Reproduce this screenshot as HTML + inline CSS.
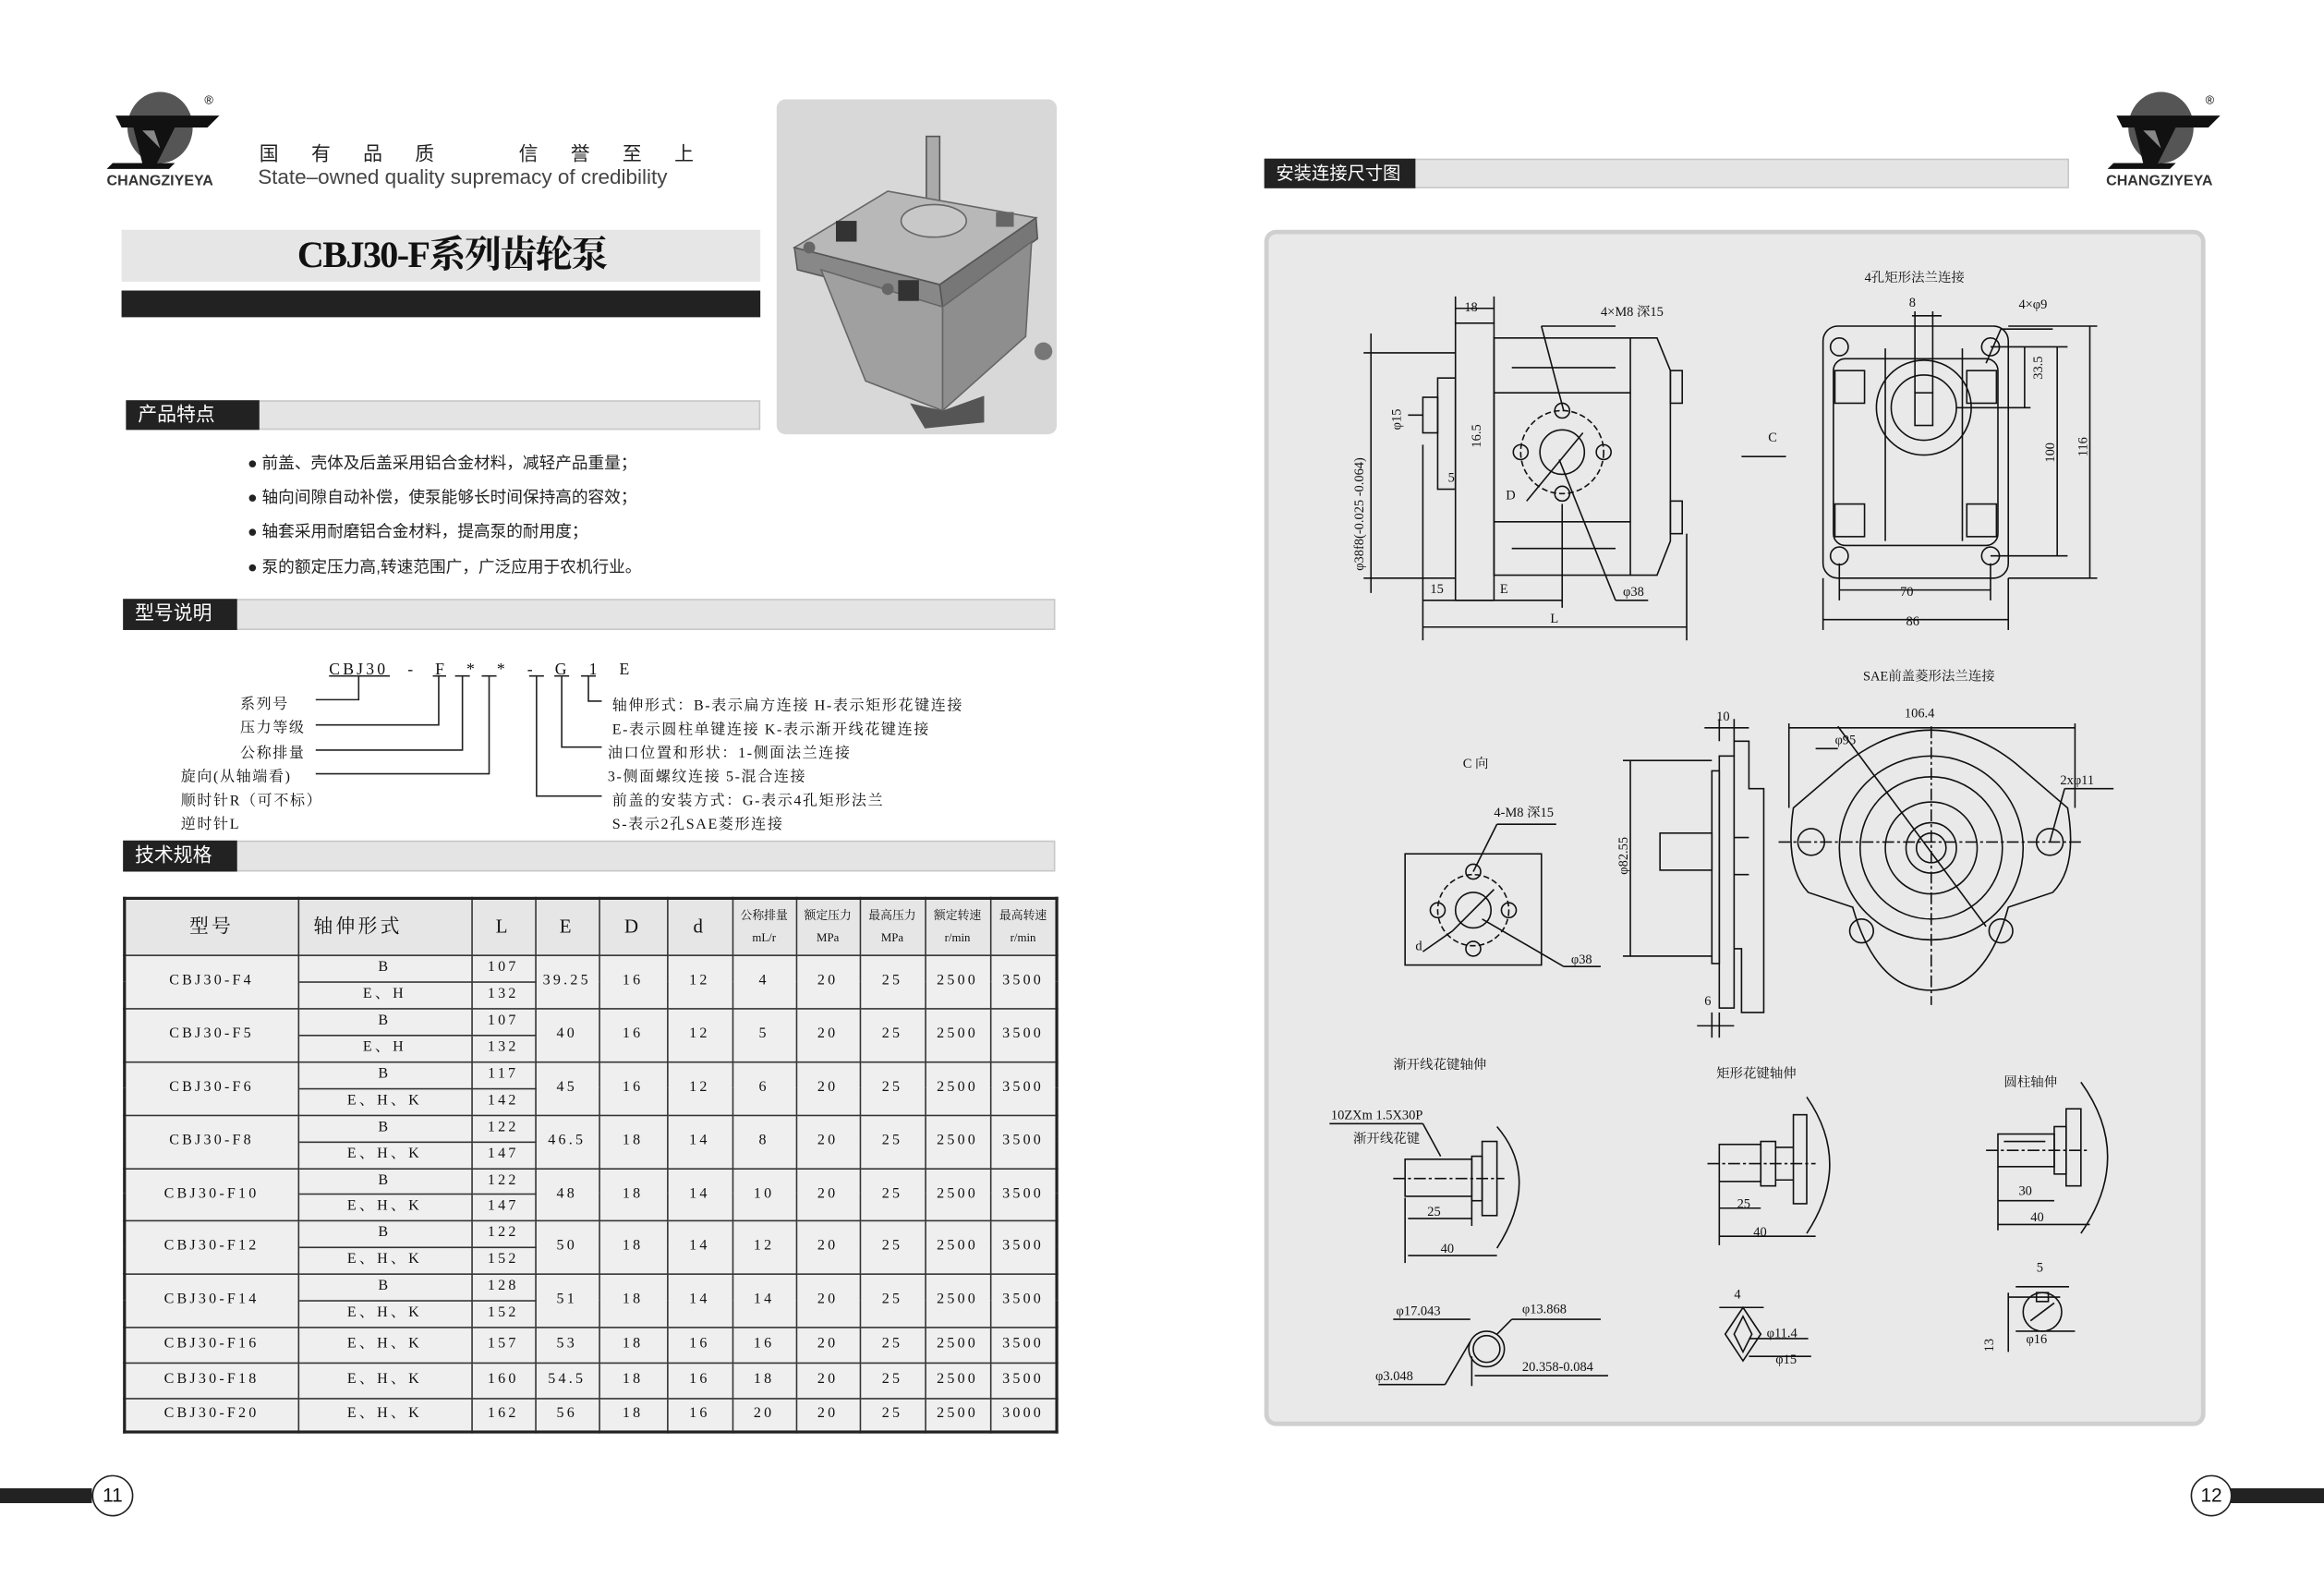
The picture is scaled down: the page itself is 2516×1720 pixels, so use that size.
<!DOCTYPE html>
<html><head><meta charset="utf-8"><style>
html,body{margin:0;padding:0;background:#fff;}
body{width:2516px;height:1719px;overflow:hidden;position:relative;}
#s{position:absolute;left:0;top:0;width:1568px;height:1072px;transform:scale(1.60459);transform-origin:0 0;font-family:"Liberation Serif","Noto Serif CJK SC","Noto Sans CJK SC",serif;color:#111;}
.a{position:absolute;}
.sans{font-family:"Liberation Sans","Noto Sans CJK SC",sans-serif;}
.bar{position:absolute;background:#e4e4e4;border:1px solid #c8c8c8;box-sizing:border-box;}
.lab{position:absolute;background:#222;color:#fff;font-family:"Liberation Sans","Noto Sans CJK SC",sans-serif;font-size:13px;line-height:20px;padding-left:8px;box-sizing:border-box;}
.b{position:absolute;font-size:11px;font-family:"Liberation Sans","Noto Sans CJK SC",sans-serif;color:#222;white-space:nowrap;}
.m{position:absolute;font-size:10px;white-space:nowrap;letter-spacing:1px;font-family:"Liberation Serif","Noto Serif CJK SC",serif;}
table{position:absolute;left:83px;top:605px;width:629px;border-collapse:collapse;table-layout:fixed;border:2px solid #222;}
td{border:1px solid #333;background:#efefef;text-align:center;font-size:10px;letter-spacing:2px;padding:0;line-height:10px;overflow:hidden;}
tr.h td{background:#e6e6e6;font-size:13px;}
</style></head><body><div id="s">

<!-- left logo -->
<svg class="a" style="left:68px;top:56px" width="95" height="64" viewBox="0 0 95 64">
<ellipse cx="40" cy="30" rx="22" ry="24" fill="#555"/>
<polygon points="10,22 80,22 72,30 50,30 38,54 28,54 22,30 14,30" fill="#111"/>
<polygon points="28,32 36,32 40,44" fill="#888"/>
<polygon points="8,54 50,54 46,58 4,58" fill="#111"/>
<text x="70" y="14" font-size="8" font-family="Liberation Sans">®</text>
</svg>
<div class="a sans" style="left:72px;top:117px;font-size:10px;font-weight:bold;color:#333;">CHANGZIYEYA</div>
<div class="a sans" style="left:175px;top:93px;font-size:13px;letter-spacing:22px;color:#222;">国有品质　信誉至上</div>
<div class="a sans" style="left:174px;top:111px;font-size:14px;color:#444;">State–owned quality supremacy of credibility</div>

<!-- photo -->
<div class="a" style="left:524px;top:67px;width:189px;height:226px;background:#d8d8d8;border-radius:6px;"></div>
<svg class="a" style="left:524px;top:67px" width="189" height="226">
<rect x="101" y="25" width="9" height="55" fill="#aaa" stroke="#555"/>
<polygon points="12,100 75,62 175,80 110,125" fill="#b8b8b8" stroke="#666"/>
<polygon points="12,100 110,125 112,140 14,115" fill="#888" stroke="#555"/>
<polygon points="110,125 175,80 176,94 112,140" fill="#777" stroke="#555"/>
<polygon points="30,115 112,140 112,210 60,190" fill="#a0a0a0" stroke="#666"/>
<polygon points="112,140 172,96 168,160 112,210" fill="#8e8e8e" stroke="#666"/>
<ellipse cx="106" cy="82" rx="22" ry="11" fill="#c8c8c8" stroke="#666"/>
<rect x="40" y="82" width="14" height="14" fill="#333"/>
<rect x="82" y="122" width="14" height="14" fill="#333"/>
<rect x="148" y="76" width="12" height="10" fill="#666"/>
<circle cx="180" cy="170" r="6" fill="#777"/>
<polygon points="90,205 112,210 140,200 140,218 100,222" fill="#555"/>
<circle cx="22" cy="100" r="4" fill="#666"/><circle cx="75" cy="128" r="4" fill="#666"/>
</svg>

<!-- title -->
<div class="bar" style="left:82px;top:155px;width:431px;height:35px;border:none;background:#e6e6e6;"></div>
<div class="a" style="left:82px;top:155px;width:446px;height:35px;text-align:center;font-size:25px;font-weight:bold;line-height:36px;letter-spacing:-1px;">CBJ30-F系列齿轮泵</div>
<div class="a" style="left:82px;top:196px;width:431px;height:18px;background:#222;"></div>

<!-- 产品特点 -->
<div class="bar" style="left:85px;top:270px;width:428px;height:20px;"></div>
<div class="lab" style="left:85px;top:270px;width:90px;height:20px;">产品特点</div>
<div class="b" style="left:167px;top:304px;">● 前盖、壳体及后盖采用铝合金材料，减轻产品重量；</div>
<div class="b" style="left:167px;top:327px;">● 轴向间隙自动补偿，使泵能够长时间保持高的容效；</div>
<div class="b" style="left:167px;top:350px;">● 轴套采用耐磨铝合金材料，提高泵的耐用度；</div>
<div class="b" style="left:167px;top:374px;">● 泵的额定压力高,转速范围广，广泛应用于农机行业。</div>

<!-- 型号说明 -->
<div class="bar" style="left:83px;top:404px;width:629px;height:21px;"></div>
<div class="lab" style="left:83px;top:404px;width:77px;height:21px;">型号说明</div>
<div class="m" style="left:222px;top:443px;font-size:11px;letter-spacing:2px;">CBJ30　-　F　*　*　-　G　1　E</div>
<svg class="a" style="left:0;top:0" width="720" height="600">
<g stroke="#222" stroke-width="1" fill="none">
<line x1="222" y1="456" x2="263" y2="456"/><line x1="292" y1="456" x2="301" y2="456"/><line x1="307" y1="456" x2="317" y2="456"/><line x1="325" y1="456" x2="335" y2="456"/><line x1="357" y1="456" x2="367" y2="456"/><line x1="374" y1="456" x2="384" y2="456"/><line x1="392" y1="456" x2="402" y2="456"/>
<polyline points="242,456 242,472 213,472"/>
<polyline points="296,456 296,489 213,489"/>
<polyline points="312,456 312,506 213,506"/>
<polyline points="330,456 330,522 213,522"/>
<polyline points="362,456 362,537 406,537"/>
<polyline points="379,456 379,504 406,504"/>
<polyline points="397,456 397,473 406,473"/>
</g></svg>
<div class="m" style="left:162px;top:466px;">系列号</div>
<div class="m" style="left:162px;top:482px;">压力等级</div>
<div class="m" style="left:162px;top:499px;">公称排量</div>
<div class="m" style="left:122px;top:515px;">旋向(从轴端看)</div>
<div class="m" style="left:122px;top:531px;">顺时针R（可不标）</div>
<div class="m" style="left:122px;top:547px;">逆时针L</div>
<div class="m" style="left:413px;top:467px;">轴伸形式：B-表示扁方连接 H-表示矩形花键连接</div>
<div class="m" style="left:413px;top:483px;">E-表示圆柱单键连接 K-表示渐开线花键连接</div>
<div class="m" style="left:410px;top:499px;">油口位置和形状：1-侧面法兰连接</div>
<div class="m" style="left:410px;top:515px;">3-侧面螺纹连接 5-混合连接</div>
<div class="m" style="left:413px;top:531px;">前盖的安装方式：G-表示4孔矩形法兰</div>
<div class="m" style="left:413px;top:547px;">S-表示2孔SAE菱形连接</div>

<!-- 技术规格 -->
<div class="bar" style="left:83px;top:567px;width:629px;height:21px;"></div>
<div class="lab" style="left:83px;top:567px;width:77px;height:21px;">技术规格</div>

<table>
<colgroup><col style="width:117px"><col style="width:117px"><col style="width:43px"><col style="width:43px"><col style="width:46px"><col style="width:44px"><col style="width:43px"><col style="width:43px"><col style="width:44px"><col style="width:44px"><col style="width:45px"></colgroup>
<tr class="h" style="height:38px"><td>型号</td><td style="text-align:left;padding-left:10px">轴伸形式</td><td>L</td><td>E</td><td>D</td><td>d</td><td style="font-size:8px;letter-spacing:0;line-height:15px">公称排量<br>mL/r</td><td style="font-size:8px;letter-spacing:0;line-height:15px">额定压力<br>MPa</td><td style="font-size:8px;letter-spacing:0;line-height:15px">最高压力<br>MPa</td><td style="font-size:8px;letter-spacing:0;line-height:15px">额定转速<br>r/min</td><td style="font-size:8px;letter-spacing:0;line-height:15px">最高转速<br>r/min</td></tr>
<tr style="height:18px"><td rowspan="2">CBJ30-F4</td><td>B</td><td>107</td><td rowspan="2">39.25</td><td rowspan="2">16</td><td rowspan="2">12</td><td rowspan="2">4</td><td rowspan="2">20</td><td rowspan="2">25</td><td rowspan="2">2500</td><td rowspan="2">3500</td></tr>
<tr style="height:18px"><td>E、H</td><td>132</td></tr>
<tr style="height:18px"><td rowspan="2">CBJ30-F5</td><td>B</td><td>107</td><td rowspan="2">40</td><td rowspan="2">16</td><td rowspan="2">12</td><td rowspan="2">5</td><td rowspan="2">20</td><td rowspan="2">25</td><td rowspan="2">2500</td><td rowspan="2">3500</td></tr>
<tr style="height:18px"><td>E、H</td><td>132</td></tr>
<tr style="height:18px"><td rowspan="2">CBJ30-F6</td><td>B</td><td>117</td><td rowspan="2">45</td><td rowspan="2">16</td><td rowspan="2">12</td><td rowspan="2">6</td><td rowspan="2">20</td><td rowspan="2">25</td><td rowspan="2">2500</td><td rowspan="2">3500</td></tr>
<tr style="height:18px"><td>E、H、K</td><td>142</td></tr>
<tr style="height:18px"><td rowspan="2">CBJ30-F8</td><td>B</td><td>122</td><td rowspan="2">46.5</td><td rowspan="2">18</td><td rowspan="2">14</td><td rowspan="2">8</td><td rowspan="2">20</td><td rowspan="2">25</td><td rowspan="2">2500</td><td rowspan="2">3500</td></tr>
<tr style="height:18px"><td>E、H、K</td><td>147</td></tr>
<tr style="height:17px"><td rowspan="2">CBJ30-F10</td><td>B</td><td>122</td><td rowspan="2">48</td><td rowspan="2">18</td><td rowspan="2">14</td><td rowspan="2">10</td><td rowspan="2">20</td><td rowspan="2">25</td><td rowspan="2">2500</td><td rowspan="2">3500</td></tr>
<tr style="height:18px"><td>E、H、K</td><td>147</td></tr>
<tr style="height:18px"><td rowspan="2">CBJ30-F12</td><td>B</td><td>122</td><td rowspan="2">50</td><td rowspan="2">18</td><td rowspan="2">14</td><td rowspan="2">12</td><td rowspan="2">20</td><td rowspan="2">25</td><td rowspan="2">2500</td><td rowspan="2">3500</td></tr>
<tr style="height:18px"><td>E、H、K</td><td>152</td></tr>
<tr style="height:18px"><td rowspan="2">CBJ30-F14</td><td>B</td><td>128</td><td rowspan="2">51</td><td rowspan="2">18</td><td rowspan="2">14</td><td rowspan="2">14</td><td rowspan="2">20</td><td rowspan="2">25</td><td rowspan="2">2500</td><td rowspan="2">3500</td></tr>
<tr style="height:18px"><td>E、H、K</td><td>152</td></tr>
<tr style="height:24px"><td>CBJ30-F16</td><td>E、H、K</td><td>157</td><td>53</td><td>18</td><td>16</td><td>16</td><td>20</td><td>25</td><td>2500</td><td>3500</td></tr>
<tr style="height:24px"><td>CBJ30-F18</td><td>E、H、K</td><td>160</td><td>54.5</td><td>18</td><td>16</td><td>18</td><td>20</td><td>25</td><td>2500</td><td>3500</td></tr>
<tr style="height:23px"><td>CBJ30-F20</td><td>E、H、K</td><td>162</td><td>56</td><td>18</td><td>16</td><td>20</td><td>20</td><td>25</td><td>2500</td><td>3000</td></tr>
</table>

<!-- page numbers -->
<div class="a" style="left:0;top:1004px;width:62px;height:10px;background:#222;"></div>
<div class="a sans" style="left:62px;top:995px;width:26px;height:26px;border:1.5px solid #222;border-radius:50%;background:#fff;text-align:center;line-height:26px;font-size:13px;">11</div>
<div class="a" style="left:1505px;top:1004px;width:63px;height:10px;background:#222;"></div>
<div class="a sans" style="left:1478px;top:995px;width:26px;height:26px;border:1.5px solid #222;border-radius:50%;background:#fff;text-align:center;line-height:26px;font-size:13px;">12</div>

<!-- right header -->
<div class="bar" style="left:853px;top:107px;width:543px;height:20px;"></div>
<div class="lab" style="left:853px;top:107px;width:102px;height:20px;font-size:12px;">安装连接尺寸图</div>
<svg class="a" style="left:1418px;top:56px" width="95" height="64" viewBox="0 0 95 64">
<ellipse cx="40" cy="30" rx="22" ry="24" fill="#555"/>
<polygon points="10,22 80,22 72,30 50,30 38,54 28,54 22,30 14,30" fill="#111"/>
<polygon points="28,32 36,32 40,44" fill="#888"/>
<polygon points="8,54 50,54 46,58 4,58" fill="#111"/>
<text x="70" y="14" font-size="8" font-family="Liberation Sans">®</text>
</svg>
<div class="a sans" style="left:1421px;top:117px;font-size:10px;font-weight:bold;color:#333;">CHANGZIYEYA</div>

<!-- drawing panel -->
<div class="a" style="left:853px;top:155px;width:635px;height:807px;background:#e9e9e9;border:3px solid #cfcfcf;border-radius:8px;box-sizing:border-box;"></div>
<svg class="a" style="left:0;top:0" width="1568" height="1072" font-family="Liberation Serif, Noto Serif CJK SC, serif" font-size="9">
<g stroke="#111" stroke-width="1" fill="none">
<rect x="982" y="218" width="26" height="187"/>
<rect x="1008" y="228" width="92" height="160"/>
<polyline points="1100,228 1118,228 1127,250 1127,365 1118,388 1100,388"/>
<line x1="1008" y1="265" x2="1100" y2="265"/><line x1="1008" y1="352" x2="1100" y2="352"/>
<line x1="1020" y1="248" x2="1090" y2="248"/><line x1="1020" y1="370" x2="1090" y2="370"/>
<rect x="1127" y="250" width="8" height="22"/><rect x="1127" y="338" width="8" height="22"/>
<rect x="970" y="255" width="12" height="75"/>
<rect x="960" y="268" width="10" height="24"/>
<circle cx="1054" cy="305" r="28" stroke-dasharray="4,2"/>
<circle cx="1054" cy="305" r="15"/>
<circle cx="1054" cy="277" r="5"/><circle cx="1054" cy="333" r="5"/><circle cx="1026" cy="305" r="5"/><circle cx="1082" cy="305" r="5"/>
<line x1="1040" y1="220" x2="1055" y2="277"/><line x1="1040" y1="220" x2="1090" y2="220"/>
<line x1="1030" y1="338" x2="1068" y2="292"/>
<line x1="1052" y1="310" x2="1090" y2="405"/><line x1="1090" y1="405" x2="1112" y2="405"/>
<line x1="920" y1="238" x2="982" y2="238"/><line x1="920" y1="390" x2="982" y2="390"/><line x1="925" y1="225" x2="925" y2="400"/>
<line x1="960" y1="300" x2="960" y2="432"/><line x1="1138" y1="360" x2="1138" y2="432"/><line x1="1054" y1="340" x2="1054" y2="410"/>
<line x1="960" y1="423" x2="1138" y2="423"/><line x1="960" y1="405" x2="982" y2="405"/><line x1="982" y1="405" x2="1054" y2="405"/>
<line x1="982" y1="200" x2="982" y2="218"/><line x1="1008" y1="200" x2="1008" y2="218"/><line x1="982" y1="208" x2="1008" y2="208"/>
<line x1="950" y1="280" x2="960" y2="280"/>
<rect x="1230" y="220" width="125" height="170" rx="10"/>
<rect x="1237" y="242" width="111" height="126" rx="8"/>
<circle cx="1241" cy="234" r="6"/><circle cx="1343" cy="234" r="6"/><circle cx="1241" cy="375" r="6"/><circle cx="1343" cy="375" r="6"/>
<circle cx="1298" cy="275" r="32"/><circle cx="1298" cy="275" r="22"/><rect x="1292" y="265" width="12" height="22"/>
<rect x="1238" y="250" width="20" height="22"/><rect x="1327" y="250" width="20" height="22"/>
<rect x="1238" y="340" width="20" height="22"/><rect x="1327" y="340" width="20" height="22"/>
<line x1="1272" y1="235" x2="1272" y2="365"/><line x1="1324" y1="235" x2="1324" y2="365"/>
<line x1="1241" y1="380" x2="1241" y2="405"/><line x1="1343" y1="380" x2="1343" y2="405"/><line x1="1241" y1="398" x2="1343" y2="398"/>
<line x1="1230" y1="390" x2="1230" y2="425"/><line x1="1355" y1="390" x2="1355" y2="425"/><line x1="1230" y1="418" x2="1355" y2="418"/>
<line x1="1355" y1="220" x2="1415" y2="220"/><line x1="1355" y1="390" x2="1415" y2="390"/><line x1="1410" y1="220" x2="1410" y2="390"/>
<line x1="1343" y1="234" x2="1395" y2="234"/><line x1="1343" y1="375" x2="1395" y2="375"/><line x1="1388" y1="234" x2="1388" y2="375"/>
<line x1="1320" y1="275" x2="1370" y2="275"/><line x1="1366" y1="234" x2="1366" y2="275"/>
<line x1="1290" y1="213" x2="1310" y2="213"/><line x1="1292" y1="210" x2="1292" y2="265"/><line x1="1304" y1="210" x2="1304" y2="265"/>
<line x1="1350" y1="222" x2="1385" y2="222"/><line x1="1350" y1="222" x2="1340" y2="245"/>
<line x1="1175" y1="308" x2="1205" y2="308"/>
<rect x="948" y="576" width="92" height="75"/>
<circle cx="994" cy="614" r="24" stroke-dasharray="4,2"/><circle cx="994" cy="614" r="12"/>
<circle cx="994" cy="588" r="5"/><circle cx="994" cy="640" r="5"/><circle cx="970" cy="614" r="5"/><circle cx="1018" cy="614" r="5"/>
<line x1="994" y1="588" x2="1010" y2="556"/><line x1="1010" y1="556" x2="1050" y2="556"/>
<line x1="980" y1="628" x2="1008" y2="600"/><line x1="960" y1="642" x2="980" y2="628"/>
<line x1="1000" y1="620" x2="1055" y2="652"/><line x1="1055" y1="652" x2="1080" y2="652"/>
<rect x="1160" y="510" width="10" height="170" />
<polyline points="1170,510 1170,500 1180,500 1180,532 1190,532 1190,683 1175,683 1175,640 1170,640"/>
<rect x="1155" y="520" width="5" height="130"/>
<rect x="1120" y="562" width="35" height="25"/>
<line x1="1170" y1="565" x2="1180" y2="565"/><line x1="1170" y1="590" x2="1180" y2="590"/>
<line x1="1095" y1="513" x2="1155" y2="513"/><line x1="1095" y1="645" x2="1155" y2="645"/><line x1="1100" y1="513" x2="1100" y2="645"/>
<line x1="1160" y1="485" x2="1160" y2="500"/><line x1="1170" y1="485" x2="1170" y2="500"/><line x1="1150" y1="491" x2="1180" y2="491"/>
<line x1="1155" y1="683" x2="1155" y2="700"/><line x1="1160" y1="683" x2="1160" y2="700"/><line x1="1145" y1="692" x2="1170" y2="692"/>
<path d="M1210,545 L1245,515 Q1303,470 1360,515 L1395,545 Q1402,585 1385,602 L1355,612 Q1340,668 1303,668 Q1266,668 1250,612 L1220,602 Q1204,585 1210,545 Z"/>
<circle cx="1303" cy="572" r="62"/><circle cx="1303" cy="572" r="48"/><circle cx="1303" cy="572" r="31"/><circle cx="1303" cy="572" r="17"/><circle cx="1303" cy="572" r="10"/>
<circle cx="1222" cy="568" r="9"/><circle cx="1383" cy="568" r="9"/><circle cx="1256" cy="628" r="8"/><circle cx="1350" cy="628" r="8"/>
<line x1="1200" y1="568" x2="1405" y2="568" stroke-dasharray="8,2,2,2"/><line x1="1303" y1="490" x2="1303" y2="678" stroke-dasharray="8,2,2,2"/>
<line x1="1240" y1="490" x2="1340" y2="625"/><line x1="1225" y1="505" x2="1240" y2="505"/>
<line x1="1207" y1="488" x2="1207" y2="545"/><line x1="1400" y1="488" x2="1400" y2="545"/><line x1="1207" y1="491" x2="1400" y2="491"/>
<line x1="1383" y1="568" x2="1393" y2="532"/><line x1="1393" y1="532" x2="1426" y2="532"/>
<rect x="948" y="782" width="45" height="25"/><rect x="993" y="780" width="7" height="30"/>
<rect x="1000" y="770" width="10" height="50"/><path d="M1010,760 Q1040,795 1010,842"/>
<line x1="940" y1="795" x2="1015" y2="795" stroke-dasharray="8,2,2,2"/>
<line x1="950" y1="822" x2="993" y2="822"/><line x1="950" y1="847" x2="1010" y2="847"/>
<line x1="948" y1="808" x2="948" y2="852"/><line x1="993" y1="808" x2="993" y2="827"/>
<line x1="897" y1="758" x2="960" y2="758"/><line x1="960" y1="758" x2="972" y2="780"/>
<circle cx="1003" cy="910" r="12"/><circle cx="1003" cy="910" r="9"/>
<line x1="940" y1="890" x2="992" y2="890"/><line x1="1020" y1="890" x2="1080" y2="890"/><line x1="1020" y1="890" x2="1010" y2="900"/>
<line x1="930" y1="934" x2="975" y2="934"/><line x1="975" y1="934" x2="992" y2="905"/>
<line x1="995" y1="928" x2="1085" y2="928"/><line x1="993" y1="915" x2="993" y2="935"/>
<rect x="1160" y="772" width="28" height="25"/><rect x="1188" y="770" width="10" height="30"/>
<rect x="1210" y="752" width="9" height="60"/><path d="M1219,740 Q1250,785 1219,832"/>
<line x1="1198" y1="774" x2="1210" y2="774"/><line x1="1198" y1="796" x2="1210" y2="796"/>
<line x1="1152" y1="785" x2="1225" y2="785" stroke-dasharray="8,2,2,2"/>
<line x1="1160" y1="797" x2="1160" y2="840"/><line x1="1160" y1="815" x2="1188" y2="815"/><line x1="1160" y1="834" x2="1225" y2="834"/>
<path d="M1170,900 L1176,888 L1182,900 L1176,912 Z M1164,900 L1176,882 L1188,900 L1176,918 Z"/>
<line x1="1160" y1="882" x2="1190" y2="882"/><line x1="1180" y1="903" x2="1220" y2="903"/><line x1="1180" y1="915" x2="1222" y2="915"/>
<rect x="1348" y="765" width="38" height="22"/><line x1="1352" y1="770" x2="1380" y2="770"/>
<rect x="1386" y="760" width="8" height="32"/><rect x="1394" y="748" width="10" height="52"/>
<path d="M1404,730 Q1440,780 1404,832"/>
<line x1="1340" y1="776" x2="1410" y2="776" stroke-dasharray="8,2,2,2"/>
<line x1="1348" y1="787" x2="1348" y2="830"/><line x1="1348" y1="810" x2="1386" y2="810"/><line x1="1348" y1="826" x2="1410" y2="826"/>
<circle cx="1378" cy="885" r="13"/><rect x="1374" y="872" width="8" height="6"/>
<line x1="1360" y1="868" x2="1396" y2="868"/><line x1="1355" y1="875" x2="1390" y2="875"/><line x1="1360" y1="898" x2="1400" y2="898"/>
<line x1="1355" y1="872" x2="1355" y2="912"/><line x1="1370" y1="891" x2="1386" y2="879"/>
</g>
<g fill="#111">
<text x="988" y="210">18</text><text x="1080" y="213">4×M8 深15</text>
<text x="945" y="290" transform="rotate(-90 945 290)">φ15</text>
<text x="999" y="302" transform="rotate(-90 999 302)">16.5</text>
<text x="977" y="325">5</text><text x="1016" y="337">D</text>
<text x="920" y="385" transform="rotate(-90 920 385)">φ38f8(-0.025 -0.064)</text>
<text x="965" y="400">15</text><text x="1012" y="400">E</text><text x="1046" y="420">L</text><text x="1095" y="402">φ38</text>
<text x="1258" y="190">4孔矩形法兰连接</text><text x="1288" y="207">8</text><text x="1362" y="208">4×φ9</text>
<text x="1193" y="298">C</text><text x="1282" y="402">70</text><text x="1286" y="422">86</text>
<text x="1378" y="256" transform="rotate(-90 1378 256)">33.5</text>
<text x="1386" y="312" transform="rotate(-90 1386 312)">100</text>
<text x="1408" y="308" transform="rotate(-90 1408 308)">116</text>
<text x="1257" y="459">SAE前盖菱形法兰连接</text><text x="1285" y="484">106.4</text>
<text x="1238" y="502">φ95</text><text x="1390" y="529">2xφ11</text>
<text x="1158" y="486">10</text><text x="1150" y="678">6</text>
<text x="1098" y="590" transform="rotate(-90 1098 590)">φ82.55</text>
<text x="987" y="518">C 向</text><text x="1008" y="551">4-M8 深15</text>
<text x="955" y="641">d</text><text x="1060" y="650">φ38</text>
<text x="940" y="721">渐开线花键轴伸</text><text x="898" y="755">10ZXm 1.5X30P</text><text x="913" y="771">渐开线花键</text>
<text x="963" y="820">25</text><text x="972" y="845">40</text>
<text x="942" y="887">φ17.043</text><text x="1027" y="886">φ13.868</text><text x="928" y="931">φ3.048</text><text x="1027" y="925">20.358-0.084</text>
<text x="1158" y="727">矩形花键轴伸</text><text x="1172" y="815">25</text><text x="1183" y="834">40</text>
<text x="1170" y="876">4</text><text x="1192" y="902">φ11.4</text><text x="1198" y="920">φ15</text>
<text x="1352" y="733">圆柱轴伸</text><text x="1362" y="806">30</text><text x="1370" y="824">40</text>
<text x="1374" y="858">5</text><text x="1367" y="906">φ16</text>
<text x="1345" y="912" transform="rotate(-90 1345 912)">13</text>
</g>
</svg>
</div></body></html>
